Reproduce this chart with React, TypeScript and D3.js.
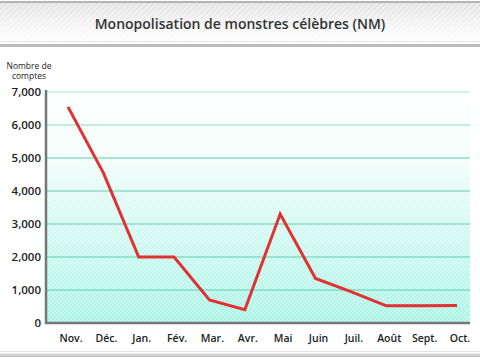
import React from "react";
import * as d3 from "d3";

const months = ["Nov.", "Déc.", "Jan.", "Fév.", "Mar.", "Avr.", "Mai", "Juin", "Juil.", "Août", "Sept.", "Oct."];
const counts = [6550, 4550, 2000, 2000, 700, 400, 3300, 1350, 950, 520, 520, 530];
const yTicks = [0, 1000, 2000, 3000, 4000, 5000, 6000, 7000];
const title = "Monopolisation de monstres célèbres (NM)";
const yLabel = ["Nombre de", "comptes"];

export default function App() {
  const W = 480, H = 360;
  const plotL = 47, plotR = 470, plotT = 92, plotB = 323;
  const x = d3.scalePoint<string>().domain(months).range([68, 457]);
  const y = d3.scaleLinear().domain([0, 7000]).range([plotB, plotT]);
  const line = d3.line<number>().x((_, i) => x(months[i])!).y(d => y(d));
  const font = "'Open Sans', 'DejaVu Sans', sans-serif";
  return (
    <svg width={W} height={H} style={{ position: "absolute", left: 0, top: 0, background: "#fff" }} fontFamily={font}>
      <defs>
        <linearGradient id="bannerG" x1="0" y1="0" x2="0" y2="1">
          <stop offset="0" stopColor="#e2e2e2" />
          <stop offset="0.6" stopColor="#f6f6f6" />
          <stop offset="1" stopColor="#ffffff" />
        </linearGradient>
        <pattern id="stripes" width="4" height="4" patternUnits="userSpaceOnUse" patternTransform="rotate(45)">
          <rect width="2" height="4" fill="#ffffff" opacity="0.35" />
        </pattern>
        <linearGradient id="plotG" x1="0" y1="0" x2="0" y2="1">
          <stop offset="0" stopColor="#ffffff" />
          <stop offset="0.3" stopColor="#effdf9" />
          <stop offset="1" stopColor="#a6f4e5" />
        </linearGradient>
        <pattern id="checker" width="4" height="4" patternUnits="userSpaceOnUse">
          <rect x="0" y="0" width="2" height="2" fill="#ffffff" opacity="0.35" />
          <rect x="2" y="2" width="2" height="2" fill="#ffffff" opacity="0.35" />
        </pattern>
        <linearGradient id="bottomG" x1="0" y1="0" x2="0" y2="1">
          <stop offset="0" stopColor="#e8e8e8" />
          <stop offset="1" stopColor="#bdbdbd" />
        </linearGradient>
      </defs>
      {/* banner */}
      <rect x={0} y={3} width={W} height={41} fill="url(#bannerG)" />
      <rect x={0} y={3} width={W} height={41} fill="url(#stripes)" />
      <rect x={0} y={1} width={W} height={2} fill="#b4b4b4" />
      <rect x={0} y={41} width={W} height={1} fill="#e4e4e4" />
      <rect x={0} y={44} width={W} height={3} fill="#bcbcbc" />
      <text x={W / 2} y={29} textAnchor="middle" fontSize={14} fill="#333" fontWeight={600}>{title}</text>

      {/* plot background */}
      <rect x={plotL} y={plotT} width={plotR - plotL} height={plotB - plotT} fill="url(#plotG)" />
      <rect x={plotL} y={plotT} width={plotR - plotL} height={plotB - plotT} fill="url(#checker)" />
      {yTicks.filter(t => t > 0).map(t => (
        <line key={t} x1={plotL} x2={plotR} y1={y(t)} y2={y(t)} stroke={t === 7000 ? "#a8e8d6" : t === 6000 ? "#86dcc3" : "#5fcfae"} strokeWidth={1} />
      ))}
      {/* axes */}
      <line x1={46} x2={46} y1={plotT - 2} y2={plotB + 1} stroke="#777" strokeWidth={2.5} />
      <line x1={45} x2={plotR} y1={plotB} y2={plotB} stroke="#777" strokeWidth={2.5} />

      {/* y labels */}
      {yTicks.map(t => (
        <text key={t} x={41} y={y(t) + 4} textAnchor="end" fontSize={11.5} fill="#222" fontWeight={600}>{d3.format(",")(t)}</text>
      ))}
      {yLabel.map((s, i) => (
        <text key={s} x={29} y={69 + i * 10} textAnchor="middle" fontSize={8.5} fill="#222">{s}</text>
      ))}
      {/* x labels */}
      {months.map(m => (
        <text key={m} x={x(m)! + 3} y={342} textAnchor="middle" fontSize={10.5} fill="#222" fontWeight={600}>{m}</text>
      ))}

      {/* data line */}
      <path d={line(counts)!} fill="none" stroke="#e03232" strokeWidth={3} strokeLinejoin="miter" />

      {/* bottom bar */}
      <rect x={0} y={351} width={W} height={1} fill="#e2e2e2" />
      <rect x={0} y={353} width={W} height={4} fill="url(#bottomG)" />
    </svg>
  );
}
